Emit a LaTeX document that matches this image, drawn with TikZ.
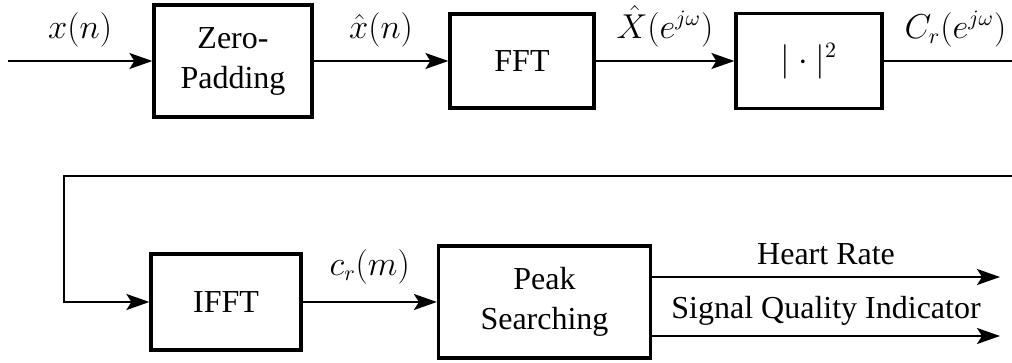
\documentclass[tikz,border=0pt]{standalone}
\usepackage[no-math]{fontspec}
\setmainfont{Liberation Serif}
\usetikzlibrary{arrows.meta,calc}

\begin{document}
\begin{tikzpicture}[x=0.5pt,y=-0.5pt,
  font=\fontsize{16}{20}\selectfont,
  block/.style={draw, line width=1.6pt, align=center, inner sep=0pt},
  flow/.style={line width=1pt, -{Stealth[length=11.5pt,width=8pt,inset=2.5pt]}},
  wire/.style={line width=1pt},
  lbl/.style={inner sep=2pt}]

\useasboundingbox (0,0) rectangle (1012,363);

% processing blocks
\node[block, minimum width=79pt, minimum height=56pt]   (zp)   at (233,61)    {Zero-\\Padding};
\node[block, minimum width=72pt, minimum height=47pt]   (fft)  at (522,61)    {FFT};
\node[block, minimum width=73pt, minimum height=47.5pt] (sq)   at (809,61)    {$|\cdot|^2$};
\node[block, minimum width=75pt, minimum height=48pt]   (ifft) at (226,302)   {IFFT};
\node[block, minimum width=106pt, minimum height=56pt]  (peak) at (544.5,302) {Peak\\Searching};

% free ends of the wires
\coordinate (in)     at (8,61);
\coordinate (edge1)  at (1012,61);
\coordinate (back)   at (1012,176);
\coordinate (corner) at (64,176);
\coordinate (hr)     at (1000,277);
\coordinate (sqi)    at (1000,336);

% signal path
\draw[flow] (in) -- node[lbl, above=4.5pt] {$x(n)$} (zp.west);
\draw[flow] (zp.east) -- node[lbl, above=4.5pt] {$\hat{x}(n)$} (fft.west);
\draw[flow] (fft.east) -- node[lbl, above=4.5pt] {$\hat{X}(e^{j\omega})$} (sq.west);
\draw[wire] (sq.east) -- node[lbl, above=4.5pt, pos=0.56] {$C_r(e^{j\omega})$} (edge1);
\draw[flow] (back) -- (corner) |- (ifft.west);
\draw[flow] (ifft.east) -- node[lbl, above=6.5pt] {$c_r(m)$} (peak.west);
\draw[flow] (peak.east |- hr) -- node[lbl, above=3.5pt] {Heart Rate} (hr);
\draw[flow] (peak.east |- sqi) -- node[lbl, above=3pt] {Signal Quality Indicator} (sqi);

\end{tikzpicture}
\end{document}
